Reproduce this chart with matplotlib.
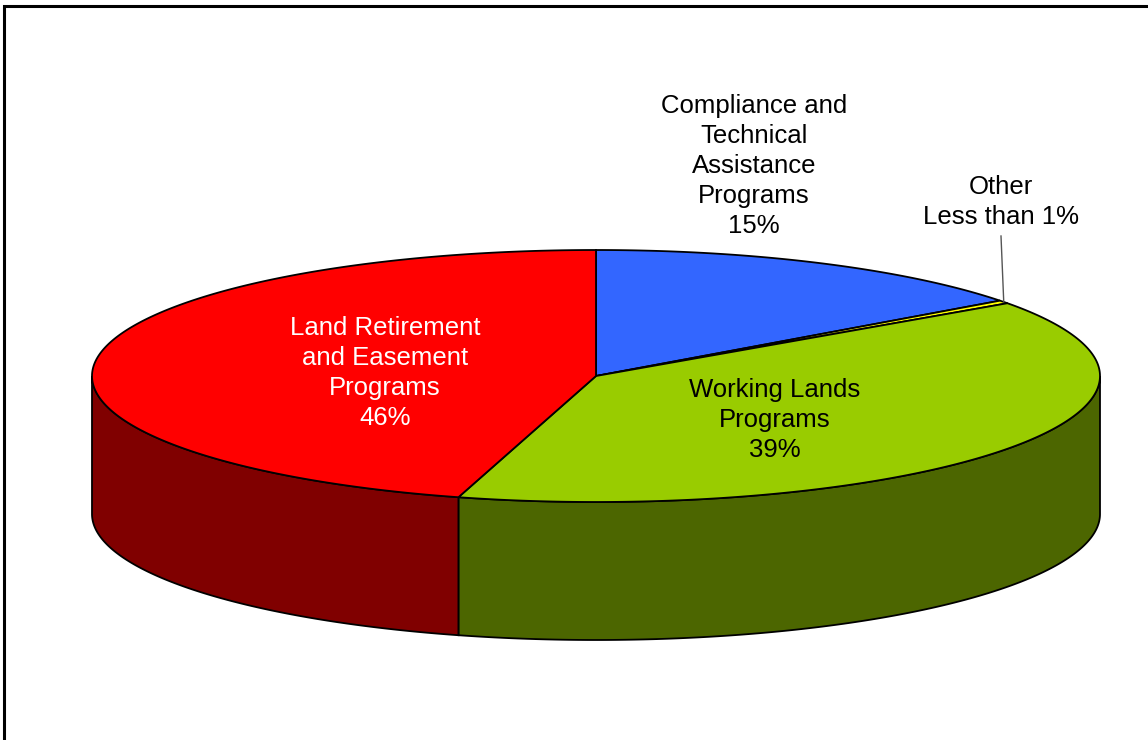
import numpy as np
import matplotlib.pyplot as plt
from matplotlib.patches import Polygon

# slices, clockwise from 12 o'clock
names = ["Compliance and\nTechnical\nAssistance\nPrograms\n15%",
         "Other\nLess than 1%",
         "Working Lands\nPrograms\n39%",
         "Land Retirement\nand Easement\nPrograms\n46%"]
shares = [14.8, 0.4, 39.2, 45.6]
top_colors = ["#3366FF", "#FFFF00", "#99CC00", "#FF0000"]
side_colors = ["#1A3380", "#808000", "#4C6600", "#800000"]
text_colors = ["black", "black", "black", "white"]

# pie geometry (pixels)
cx, cy = 596, 376
rx, ry = 504, 126
depth = 138

fig = plt.figure(figsize=(11.48, 7.4), dpi=100)
ax = fig.add_axes([0, 0, 1, 1])
ax.set_xlim(0, 1148)
ax.set_ylim(740, 0)
ax.axis("off")

def pt(th, dy=0):
    t = np.radians(th)
    return cx + rx * np.cos(t), cy - ry * np.sin(t) + dy

total = sum(shares)
starts = []
a = 90.0
for v in shares:
    b = a - 360.0 * v / total
    starts.append((a, b))
    a = b

# side walls (front half only)
for (a, b), col in zip(starts, side_colors):
    hi = min(a, 0.0)
    lo = max(b, -180.0)
    if hi <= lo:
        continue
    th = np.linspace(hi, lo, 200)
    xs, ys = pt(th)
    xb, yb = pt(th[::-1], depth)
    poly = np.column_stack([np.concatenate([xs, xb]), np.concatenate([ys, yb])])
    ax.add_patch(Polygon(poly, closed=True, facecolor=col, edgecolor="black", lw=1.3))

# top faces
for (a, b), col in zip(starts, top_colors):
    th = np.linspace(a, b, 300)
    xs, ys = pt(th)
    poly = np.column_stack([np.concatenate([[cx], xs]), np.concatenate([[cy], ys])])
    ax.add_patch(Polygon(poly, closed=True, facecolor=col, edgecolor="black", lw=1.3))

# labels
label_pos = [(754, 166), (1001, 202), (775, 420), (385, 373)]
for s, (x, y), tc in zip(names, label_pos, text_colors):
    ax.text(x, y, s, ha="center", va="center", color=tc, fontsize=18.5,
            family="Liberation Sans", linespacing=1.32)

# leader line for the small slice
a, b = starts[1]
lx, ly = pt((a + b) / 2)
ax.plot([1001, lx], [236, ly], color="#555555", lw=1)

# chart frame
ax.plot([4, 4, 1150], [745, 6, 6], color="black", lw=2.2, solid_joinstyle="miter")

fig.savefig("out.png", dpi=100)
